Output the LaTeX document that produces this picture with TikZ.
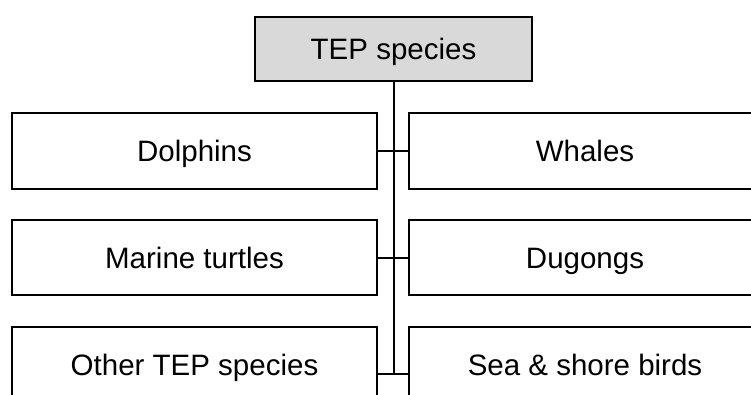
\documentclass[tikz,border=0pt]{standalone}
\usepackage{fontspec}
\setmainfont{Liberation Sans}
\definecolor{headfill}{RGB}{217,217,217}
\begin{document}
\begin{tikzpicture}[x=1pt,y=-1pt,
  catbox/.style={draw=black,line width=1.6pt,fill=white,inner sep=0pt,
    font=\fontsize{29.5}{34}\selectfont,text height=21pt,text depth=0pt},
  headbox/.style={catbox,fill=headfill},
  link/.style={draw=black,line width=2pt}]
  \clip (0,0) rectangle (751,394);
  \fill[white] (0,0) rectangle (751,394);

  % root
  \node[headbox,minimum width=277pt,minimum height=64pt] (root) at (393.5,49) {TEP species};

  % left column
  \node[catbox,minimum width=365pt,minimum height=76pt] (l1) at (194.5,151) {Dolphins};
  \node[catbox,minimum width=365pt,minimum height=75pt] (l2) at (194.5,257.5) {Marine turtles};
  \node[catbox,minimum width=365pt,minimum height=76pt] (l3) at (194.5,365) {Other TEP species};

  % right column
  \node[catbox,minimum width=352pt,minimum height=76pt] (r1) at (585,151) {Whales};
  \node[catbox,minimum width=352pt,minimum height=75pt] (r2) at (585,257.5) {Dugongs};
  \node[catbox,minimum width=352pt,minimum height=76pt] (r3) at (585,365) {Sea \& shore birds};

  % trunk and branches
  \coordinate (trunkend) at (393.5,374);
  \coordinate (l3tap) at (l3.east |- trunkend);
  \coordinate (r3tap) at (r3.west |- trunkend);
  \draw[link] (root.south) -- (trunkend);
  \draw[link] (l1.east) -- (r1.west);
  \draw[link] (l2.east) -- (r2.west);
  \draw[link] (l3tap) -- (r3tap);
\end{tikzpicture}
\end{document}
